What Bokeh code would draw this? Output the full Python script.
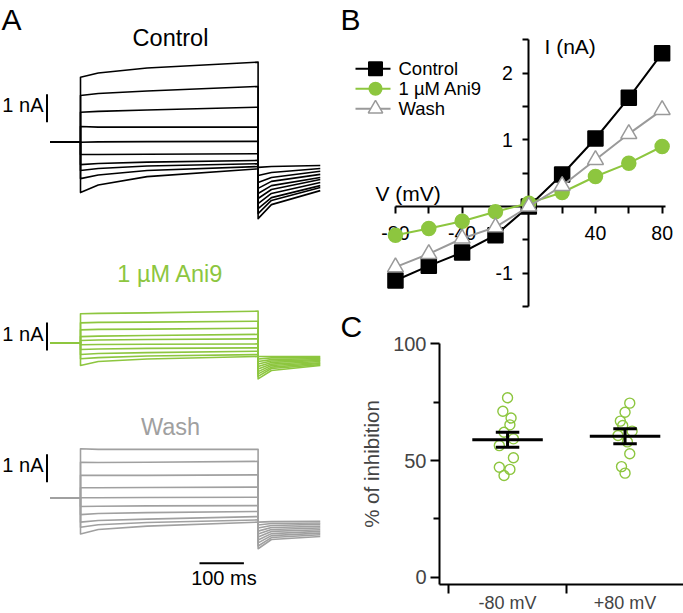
from bokeh.plotting import figure
from bokeh.layouts import row, column
from bokeh.models import FixedTicker, Range1d, LinearAxis
from bokeh.core.properties import value
from bokeh.embed import file_html
from bokeh.resources import INLINE

FONT = "Liberation Sans"
GREEN = "#8DC63F"
GRAY_TRACE = "#A0A0A0"
GRAY_IV = "#9A9A9A"

# ---------------- Panel A data (current traces, nA relative to holding) -----
hold_start_ms = -68
step_times_ms = [0, 40, 150, 400]
tail_times_ms = [400, 430, 540]

ctrl_onset = [2.32, 1.67, 1.07, 0.56, 0.00, -0.44, -0.80, -1.01, -1.30, -1.80]
ctrl_t40 = [2.47, 1.74, 1.10, 0.54, 0.01, -0.44, -0.76, -0.94, -1.17, -1.53]
ctrl_t150 = [2.65, 1.83, 1.15, 0.54, 0.02, -0.43, -0.71, -0.85, -1.01, -1.23]
ctrl_end = [2.86, 1.99, 1.25, 0.54, 0.03, -0.41, -0.65, -0.77, -0.87, -0.95]
ctrl_tail_start = [-2.73, -2.55, -2.37, -2.19, -2.01, -1.83, -1.65, -1.44, -1.19, -0.90]
ctrl_tail_mid = [-2.23, -2.08, -1.98, -1.83, -1.69, -1.55, -1.40, -1.26, -1.08, -0.87]
ctrl_tail_end = [-1.73, -1.62, -1.55, -1.44, -1.33, -1.26, -1.15, -1.04, -0.94, -0.83]

ani_onset = [1.04, 0.71, 0.46, 0.22, 0.08, -0.07, -0.24, -0.42, -0.57, -0.81]
ani_t40 = [1.05, 0.73, 0.48, 0.24, 0.10, -0.06, -0.22, -0.38, -0.53, -0.67]
ani_t150 = [1.07, 0.74, 0.49, 0.26, 0.12, -0.05, -0.20, -0.35, -0.47, -0.58]
ani_end = [1.13, 0.77, 0.52, 0.30, 0.14, -0.04, -0.18, -0.30, -0.42, -0.49]
ani_tail_start = [-1.29, -1.20, -1.11, -1.03, -0.94, -0.85, -0.76, -0.67, -0.58, -0.49]
ani_tail_mid = [-0.99, -0.92, -0.87, -0.81, -0.76, -0.70, -0.65, -0.60, -0.54, -0.49]
ani_tail_end = [-0.81, -0.78, -0.74, -0.71, -0.67, -0.63, -0.60, -0.56, -0.53, -0.49]

wash_onset = [1.75, 1.27, 0.80, 0.36, 0.00, -0.31, -0.60, -0.87, -1.05, -1.29]
wash_t40 = [1.73, 1.26, 0.80, 0.36, 0.00, -0.30, -0.56, -0.81, -0.96, -1.13]
wash_t150 = [1.73, 1.27, 0.80, 0.37, 0.01, -0.29, -0.53, -0.76, -0.88, -1.01]
wash_end = [1.73, 1.30, 0.82, 0.38, 0.02, -0.28, -0.49, -0.67, -0.79, -0.87]
wash_tail_start = [-1.82, -1.72, -1.61, -1.51, -1.40, -1.29, -1.19, -1.08, -0.97, -0.87]
wash_tail_mid = [-1.49, -1.42, -1.35, -1.28, -1.20, -1.13, -1.06, -0.99, -0.92, -0.85]
wash_tail_end = [-1.38, -1.32, -1.26, -1.20, -1.14, -1.08, -1.02, -0.95, -0.90, -0.84]

scale_current_na = 1
scale_time_ms = 100

# ---------------- Panel B data (I-V) ----------------
iv_voltage = [-80, -60, -40, -20, 0, 20, 40, 60, 80]
iv_control = [-1.11, -0.89, -0.69, -0.43, 0.00, 0.48, 1.02, 1.63, 2.30]
iv_ani9 = [-0.43, -0.33, -0.22, -0.08, 0.05, 0.21, 0.45, 0.65, 0.90]
iv_wash = [-0.91, -0.71, -0.48, -0.31, 0.00, 0.31, 0.70, 1.09, 1.45]
iv_names = ["Control", "1 \u00b5M Ani9", "Wash"]
x_ticks_b = [-80, -60, -40, -20, 0, 20, 40, 60, 80]
x_labels_b = ["-80", "", "-40", "", "", "", "40", "", "80"]
y_ticks_b = [-1.5, -1, -0.5, 0.5, 1, 1.5, 2, 2.5]
y_labels_b = ["", "-1", "", "", "1", "", "2", ""]

# ---------------- Panel C data (% inhibition) ----------------
conditions_c = ["-80 mV", "+80 mV"]
pct_m80 = [76.9, 71.1, 68.2, 65.3, 62.1, 59.3, 56.4, 51.2, 47.1, 46.2, 43.6]
jit_m80 = [0.0, -0.04, 0.03, 0.02, -0.03, 0.05, -0.07, 0.05, -0.07, 0.02, -0.03]
pct_p80 = [74.6, 70.7, 66.9, 65.0, 62.6, 60.7, 58.0, 52.9, 47.4, 44.6]
jit_p80 = [0.04, 0.0, -0.04, -0.02, 0.06, -0.06, 0.02, 0.04, -0.03, 0.0]
mean_pct = [58.9, 60.4]
sem_pct = [3.2, 3.2]

# =====================================================================
W_A, W_R, H_TOT, H_B = 340, 343, 613, 310
H_C = H_TOT - H_B
TOP_C = H_B

# ---- Panel A ----
A_PX_MS = 0.444
A_PX_NA = 28.0
A_T0 = 80.0  # canvas px of step onset
def a_t(ref_x):
    return (ref_x - A_T0) / A_PX_MS
def a_y(ref_y):
    return -ref_y / A_PX_NA

pA = figure(width=W_A, height=H_TOT, output_backend="svg", toolbar_location=None,
            x_range=Range1d(-A_T0 / A_PX_MS, (W_A - A_T0) / A_PX_MS),
            y_range=Range1d(-H_TOT / A_PX_NA, 0),
            x_axis_type=None, y_axis_type=None, min_border=0)
pA.outline_line_color = None
pA.grid.visible = False

groups = [
    ("Control", "black", a_y(141.7), (ctrl_onset, ctrl_t40, ctrl_t150, ctrl_end,
                                      ctrl_tail_start, ctrl_tail_mid, ctrl_tail_end),
     a_y(37), 0.714),
    ("1 \u00b5M Ani9", GREEN, a_y(342.3), (ani_onset, ani_t40, ani_t150, ani_end,
                                           ani_tail_start, ani_tail_mid, ani_tail_end),
     a_y(273.3), -0.275),
    ("Wash", GRAY_TRACE, a_y(497.3), (wash_onset, wash_t40, wash_t150, wash_end,
                                      wash_tail_start, wash_tail_mid, wash_tail_end),
     a_y(426.7), 0.557),
]
for name, col, base, arrs, title_y, bar_bottom in groups:
    on, t40, t150, end, ts, tm, te = arrs
    xs, ys = [], []
    for i in range(len(on)):
        xs.append([hold_start_ms, step_times_ms[0]] + step_times_ms + tail_times_ms)
        ys.append([base + v for v in [0, 0, on[i], t40[i], t150[i], end[i], ts[i], tm[i], te[i]]])
    pA.multi_line(xs, ys, line_color=col, line_width=1.6, line_join="round")
    pA.text(x=[a_t(170)], y=[title_y], text=[name], text_color=col,
            text_font=value(FONT), text_font_size="23.5px",
            text_align="center", text_baseline="middle")
    bx = a_t(46.5)
    pA.segment(x0=[bx], y0=[base + bar_bottom], x1=[bx], y1=[base + bar_bottom + scale_current_na],
               line_color="black", line_width=2)
    pA.text(x=[a_t(43)], y=[base + bar_bottom + scale_current_na / 2 + 0.1], text=["1 nA"],
            text_color="black", text_font=value(FONT), text_font_size="20px",
            text_align="right", text_baseline="middle")

# time scale bar
t_bar0 = a_t(199)
pA.segment(x0=[t_bar0], y0=[a_y(562.7)], x1=[t_bar0 + scale_time_ms], y1=[a_y(562.7)],
           line_color="black", line_width=2)
pA.text(x=[t_bar0 + scale_time_ms / 2 + 5], y=[a_y(566)], text=["100 ms"],
        text_font=value(FONT), text_font_size="20px", text_align="center", text_baseline="top")
pA.text(x=[a_t(1)], y=[a_y(2)], text=["A"], text_font=value(FONT), text_font_size="30px",
        text_align="left", text_baseline="top")

# ---- Panel B ----
B_PX_MV = 1.6667
B_PX_NA = 66.67
B_X0 = 188.3   # local px of 0 mV
B_Y0 = 206.0   # local px (from top) of 0 nA
xb0 = -B_X0 / B_PX_MV
yb1 = B_Y0 / B_PX_NA
def b_x(ref_x):
    return xb0 + (ref_x - W_A) / B_PX_MV
def b_y(ref_y):
    return yb1 - ref_y / B_PX_NA

pB = figure(width=W_R, height=H_B, output_backend="svg", toolbar_location=None,
            x_range=Range1d(xb0, xb0 + W_R / B_PX_MV),
            y_range=Range1d(yb1 - H_B / B_PX_NA, yb1), min_border=0)
pB.outline_line_color = None
pB.grid.visible = False
for ax in (pB.xaxis[0], pB.yaxis[0]):
    ax.fixed_location = 0
    ax.axis_line_width = 2
    ax.major_tick_line_width = 2
    ax.major_tick_in = 0
    ax.minor_tick_out = 0
    ax.minor_tick_in = 0
    ax.major_label_text_font = FONT
    ax.major_label_text_font_size = "19.5px"
    ax.major_label_text_color = "black"
    ax.level = "underlay"
pB.xaxis.ticker = FixedTicker(ticks=x_ticks_b, minor_ticks=[])
pB.xaxis.major_label_overrides = dict(zip(x_ticks_b, x_labels_b))
pB.xaxis.major_tick_out = 7
pB.xaxis.major_label_standoff = 12
pB.xaxis.bounds = (-80, 82)
pB.yaxis.ticker = FixedTicker(ticks=y_ticks_b, minor_ticks=[])
pB.yaxis.major_label_overrides = dict(zip(y_ticks_b, y_labels_b))
pB.yaxis.major_tick_out = 6
pB.yaxis.major_label_standoff = 10
pB.yaxis.bounds = (-1.5, 2.5)

series = [
    (iv_control, "black", "square", "black", 15),
    (iv_ani9, GREEN, "circle", GREEN, 14),
    (iv_wash, GRAY_IV, "triangle", "white", 16),
]
for vals, col, mk, fill, sz in series:
    pB.line(iv_voltage, vals, line_color=col, line_width=2)
    pB.scatter(iv_voltage, vals, marker=mk, size=sz, fill_color=fill, line_color=col, line_width=1.5)

# legend (manual)
leg_rows = [68.3, 88.3, 108.3]
for (vals, col, mk, fill, sz), name, ry in zip(series, iv_names, leg_rows):
    yy = b_y(ry)
    pB.segment(x0=[b_x(355)], y0=[yy], x1=[b_x(390)], y1=[yy], line_color=col, line_width=2)
    pB.scatter([b_x(375)], [yy], marker=mk, size=sz * 0.9, fill_color=fill, line_color=col, line_width=1.5)
    pB.text(x=[b_x(398)], y=[yy], text=[name], text_font=value(FONT), text_font_size="18.5px",
            text_align="left", text_baseline="middle")

pB.text(x=[b_x(375)], y=[b_y(193)], text=["V (mV)"], text_font=value(FONT), text_font_size="21px",
        text_align="left", text_baseline="middle")
pB.text(x=[b_x(544)], y=[b_y(46)], text=["I (nA)"], text_font=value(FONT), text_font_size="21px",
        text_align="left", text_baseline="middle")
pB.text(x=[b_x(340)], y=[b_y(2)], text=["B"], text_font=value(FONT), text_font_size="30px",
        text_align="left", text_baseline="top")

# ---- Panel C ----
C_PX_CAT = 117.5
C_PX_PCT = 2.3333
C_X0 = 108.3          # local px of category boundary 0
C_Y0 = 576.7 - TOP_C  # local px (from top) of 0 %
xc0 = -C_X0 / C_PX_CAT
yc1 = C_Y0 / C_PX_PCT
def c_x(ref_x):
    return xc0 + (ref_x - W_A) / C_PX_CAT
def c_y(ref_y):
    return yc1 - (ref_y - TOP_C) / C_PX_PCT

pC = figure(width=W_R, height=H_C, output_backend="svg", toolbar_location=None,
            x_range=Range1d(xc0, xc0 + W_R / C_PX_CAT),
            y_range=Range1d(yc1 - H_C / C_PX_PCT, yc1), min_border=0)
pC.outline_line_color = None
pC.grid.visible = False
x_axis_y = c_y(583.5)
y_axis_x = c_x(439)

ya = pC.yaxis[0]
ya.fixed_location = y_axis_x
ya.ticker = FixedTicker(ticks=[0, 50, 100], minor_ticks=[25, 75])
ya.bounds = (x_axis_y, 100)
ya.axis_line_width = 2
ya.major_tick_line_width = 2
ya.minor_tick_line_width = 2
ya.major_tick_in = 0
ya.major_tick_out = 9
ya.minor_tick_in = 0
ya.minor_tick_out = 6
ya.major_label_text_font = FONT
ya.major_label_text_font_size = "20px"
ya.major_label_standoff = 4
ya.axis_label = "% of inhibition"
ya.axis_label_text_font = FONT
ya.axis_label_text_font_size = "20.5px"
ya.axis_label_text_font_style = "normal"
ya.axis_label_standoff = 7

xa = pC.xaxis[0]
xa.fixed_location = x_axis_y
xa.ticker = FixedTicker(ticks=[0, 1, 2], minor_ticks=[])
xa.bounds = (y_axis_x, 2)
xa.axis_line_width = 2
xa.major_tick_line_width = 2
xa.major_tick_in = 0
xa.major_tick_out = 9
xa.minor_tick_out = 0
xa.minor_tick_in = 0
xa.major_label_text_alpha = 0

cat_centers = [0.5, 1.5]
xl = LinearAxis(fixed_location=x_axis_y,
                ticker=FixedTicker(ticks=cat_centers, minor_ticks=[]),
                major_label_overrides=dict(zip(cat_centers, conditions_c)),
                axis_line_alpha=0, major_tick_out=0, major_tick_in=0,
                minor_tick_out=0, minor_tick_in=0,
                major_label_text_font=FONT, major_label_text_font_size="18px",
                major_label_standoff=9)
pC.add_layout(xl, "below")

for cx, vals, jit in zip(cat_centers, [pct_m80, pct_p80], [jit_m80, jit_p80]):
    pC.scatter([cx + j for j in jit], vals, marker="circle", size=10, fill_color=None,
               line_color=GREEN, line_width=1.4)

half_mean = 0.3
half_cap = 0.1
pC.segment(x0=[c - half_mean for c in cat_centers], y0=mean_pct,
           x1=[c + half_mean for c in cat_centers], y1=mean_pct, line_color="black", line_width=3)
pC.segment(x0=cat_centers, y0=[m - s for m, s in zip(mean_pct, sem_pct)],
           x1=cat_centers, y1=[m + s for m, s in zip(mean_pct, sem_pct)],
           line_color="black", line_width=3)
for sign in (-1, 1):
    yy = [m + sign * s for m, s in zip(mean_pct, sem_pct)]
    pC.segment(x0=[c - half_cap for c in cat_centers], y0=yy,
               x1=[c + half_cap for c in cat_centers], y1=yy, line_color="black", line_width=3)

pC.text(x=[c_x(340)], y=[c_y(309)], text=["C"], text_font=value(FONT), text_font_size="30px",
        text_align="left", text_baseline="top")

layout = row(pA, column(pB, pC))
open("out.html", "w").write(file_html(layout, INLINE))
